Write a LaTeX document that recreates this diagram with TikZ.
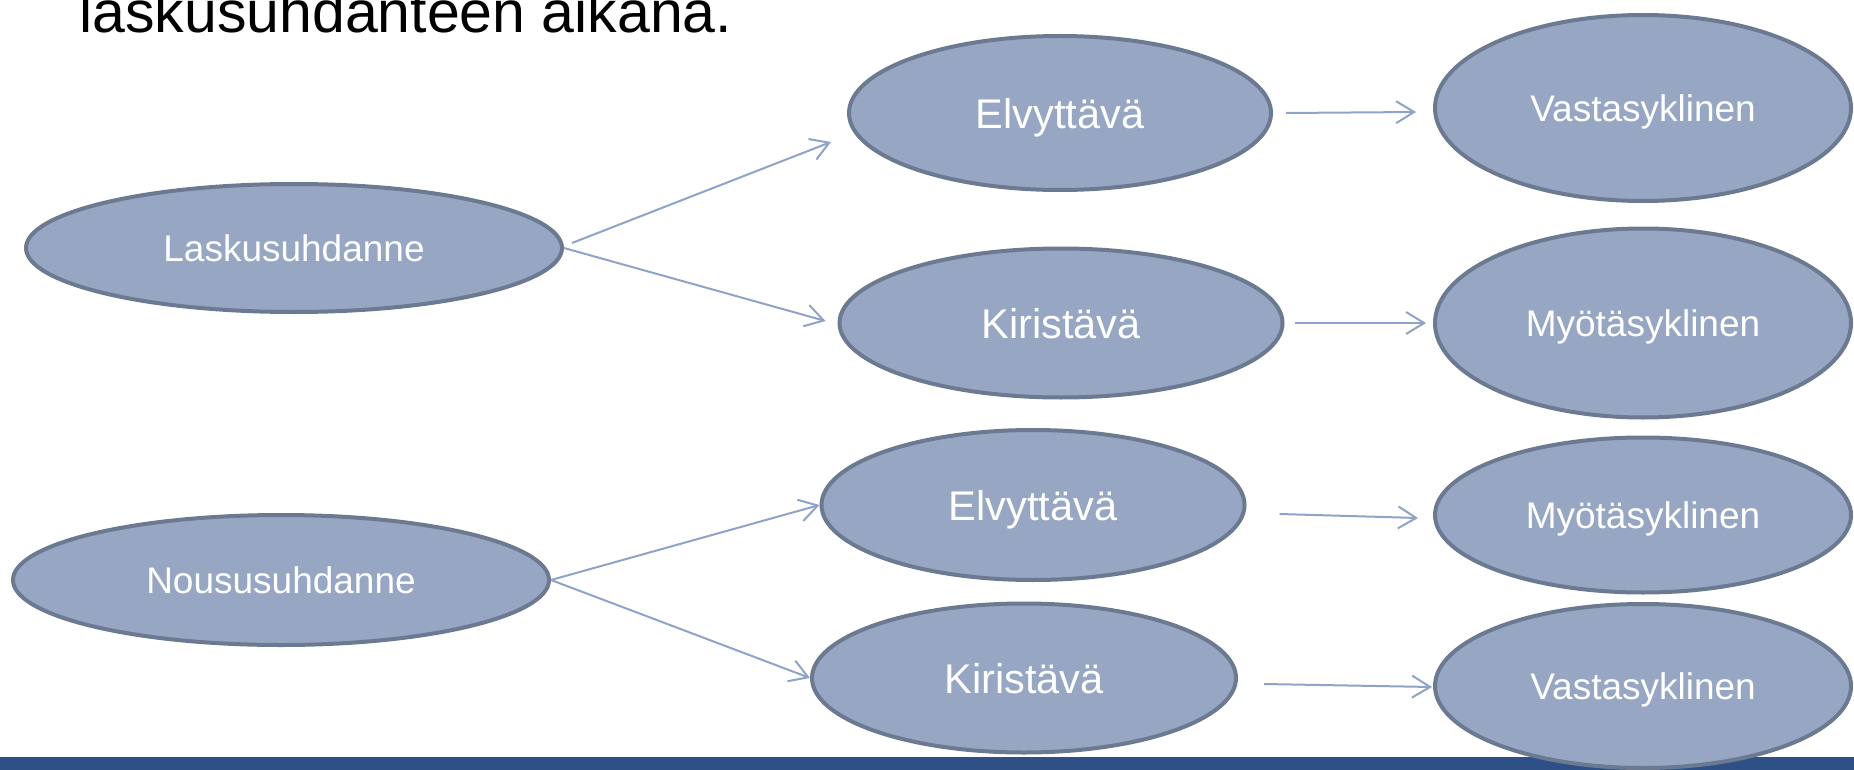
\documentclass[tikz,border=0pt]{standalone}
\usepackage{fontspec}
\setmainfont{Liberation Sans}
\usetikzlibrary{arrows.meta}
\usetikzlibrary{shapes}

\definecolor{ellfill}{HTML}{97A7C3}
\definecolor{ellline}{HTML}{6B7991}
\definecolor{arrcol}{HTML}{8FA3C8}
\definecolor{barblue}{HTML}{2F5087}

\tikzset{
    sykli/.style={draw=ellline, fill=ellfill, ellipse, line width=4pt, inner sep=0pt, text=white, text depth=0pt},
    pieni/.style={font=\fontsize{37}{40}\selectfont},
    iso/.style={font=\fontsize{41.5}{44}\selectfont},
    nuoli/.style={draw=arrcol, line width=2pt, ->},
}

\begin{document}
\begin{tikzpicture}[x=1pt, y=-1pt, >={Straight Barb[length=18pt, width=22pt]}]
    \useasboundingbox (0,0) rectangle (1854,770);
    \fill[barblue] (0,757) rectangle (1854,770);

    \node[anchor=base west, font=\fontsize{59}{70}\selectfont] (otsikko) at (76,33) {laskusuhdanteen aikana.};

    \node[sykli, pieni, minimum width=536pt, minimum height=128pt] (Lasku) at (294,248) {Laskusuhdanne};
    \node[sykli, iso, minimum width=422pt, minimum height=154pt] (Elv1) at (1060,113) {Elvyttävä};
    \node[sykli, iso, minimum width=443pt, minimum height=149pt] (Kir1) at (1061,323) {Kiristävä};
    \node[sykli, pieni, minimum width=416pt, minimum height=186pt] (Vasta1) at (1643,108) {Vastasyklinen};
    \node[sykli, pieni, minimum width=416pt, minimum height=189pt] (Myo1) at (1643,323) {Myötäsyklinen};

    \node[sykli, pieni, minimum width=536pt, minimum height=130pt] (Nousu) at (281,580) {Noususuhdanne};
    \node[sykli, iso, minimum width=423pt, minimum height=150pt] (Elv2) at (1033,505) {Elvyttävä};
    \node[sykli, iso, minimum width=424pt, minimum height=149pt] (Kir2) at (1024,678) {Kiristävä};
    \node[sykli, pieni, minimum width=416pt, minimum height=155pt] (Myo2) at (1643,515) {Myötäsyklinen};
    \node[sykli, pieni, minimum width=416pt, minimum height=164pt] (Vasta2) at (1643,686) {Vastasyklinen};

    \draw[nuoli] ([shift={(8,-5)}]Lasku.east) -- ([shift={(-16,29)}]Elv1.west);
    \draw[nuoli] (Lasku.east) -- ([shift={(-12,-2)}]Kir1.west);
    \draw[nuoli] ([xshift=13]Elv1.east) -- ([shift={(-17,4)}]Vasta1.west);
    \draw[nuoli] ([xshift=10]Kir1.east) -- ([xshift=-7]Myo1.west);

    \draw[nuoli] (Nousu.east) -- (Elv2.west);
    \draw[nuoli] (Nousu.east) -- (Kir2.west);
    \draw[nuoli] ([shift={(33,9)}]Elv2.east) -- ([shift={(-15,3)}]Myo2.west);
    \draw[nuoli] ([shift={(26,6)}]Kir2.east) -- ([shift={(-1,1)}]Vasta2.west);
\end{tikzpicture}
\end{document}
